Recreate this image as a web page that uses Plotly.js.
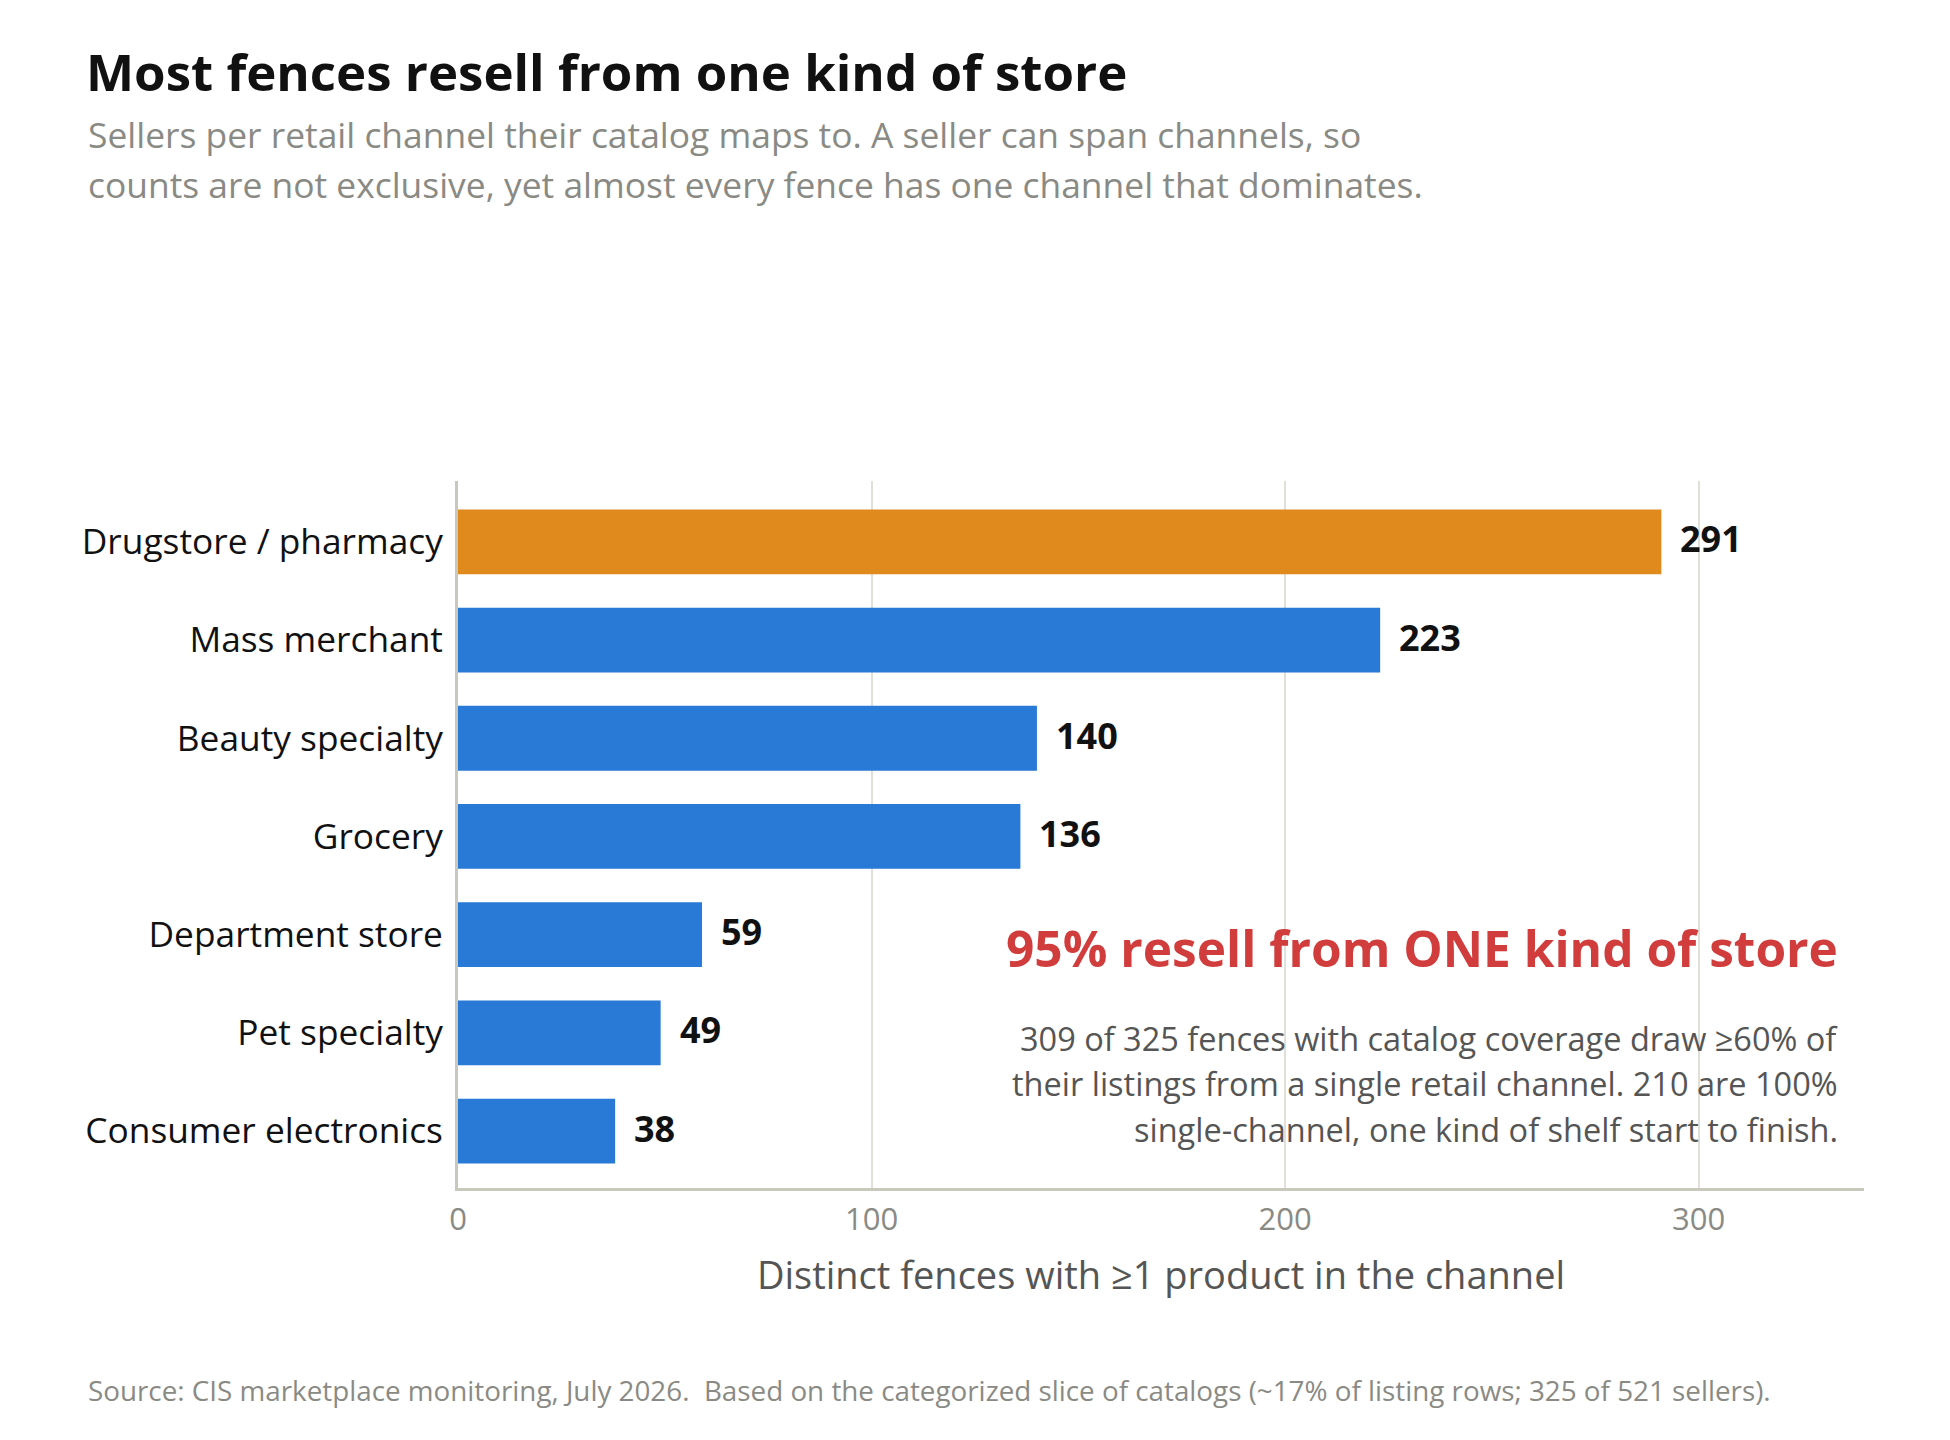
<!DOCTYPE html>
<html>
<head>
<meta charset="utf-8">
<script src="https://cdn.plot.ly/plotly-3.0.1.min.js"></script>
<style>
  html, body { margin: 0; padding: 0; background: #ffffff; }
  #chart { width: 1950px; height: 1440px; }
</style>
</head>
<body>
<div id="chart"></div>
<script>
// ---- Data ----
const categories = [
  "Drugstore / pharmacy",
  "Mass merchant",
  "Beauty specialty",
  "Grocery",
  "Department store",
  "Pet specialty",
  "Consumer electronics"
];
const sellers = [291, 223, 140, 136, 59, 49, 38];
const highlightCategory = "Drugstore / pharmacy";
const xTickValues = [0, 100, 200, 300];

const titleText = "Most fences resell from one kind of store";
const subtitleLines = [
  "Sellers per retail channel their catalog maps to. A seller can span channels, so",
  "counts are not exclusive, yet almost every fence has one channel that dominates."
];
const xAxisTitle = "Distinct fences with ≥1 product in the channel";
const calloutHead = "95% resell from ONE kind of store";
const calloutLines = [
  "309 of 325 fences with catalog coverage draw ≥60% of",
  "their listings from a single retail channel. 210 are 100%",
  "single-channel, one kind of shelf start to finish."
];
const sourceText = "Source: CIS marketplace monitoring, July 2026.  Based on the categorized slice of catalogs (~17% of listing rows; 325 of 521 sellers).";

// ---- Styling / layout ----
const FONT = "'Open Sans', 'Noto Sans', sans-serif";
const W = 1950, H = 1440;
const L = 458, R = 1864, T = 481, B = 1188;
const px = x => (x - L) / (R - L);
const py = y => (B - y) / (B - T);

const ORANGE = "#E08A1E", BLUE = "#2979D6";
const colors = categories.map(c => c === highlightCategory ? ORANGE : BLUE);

const trace = {
  type: "bar",
  orientation: "h",
  x: sellers,
  y: categories,
  width: 0.66,
  marker: { color: colors },
  hoverinfo: "skip"
};

const annotations = [];
// value labels
categories.forEach((c, i) => {
  annotations.push({
    x: sellers[i], y: c, xref: "x", yref: "y",
    text: "<b>" + sellers[i] + "</b>",
    showarrow: false, xanchor: "left", yanchor: "middle",
    xshift: 17, yshift: 3,
    font: { family: FONT, size: 36, color: "#111111" }
  });
});
// subtitle
subtitleLines.forEach((t, i) => {
  annotations.push({
    x: px(86), y: py([134, 184][i]), xref: "paper", yref: "paper",
    text: t, showarrow: false, xanchor: "left", yanchor: "middle",
    font: { family: FONT, size: 35.4, color: "#8A8A85" }
  });
});
// callout
annotations.push({
  x: px(1840), y: py(948), xref: "paper", yref: "paper",
  text: "<b>" + calloutHead + "</b>", showarrow: false,
  xanchor: "right", yanchor: "middle",
  font: { family: FONT, size: 49.6, color: "#D13C3C" }
});
calloutLines.forEach((t, i) => {
  annotations.push({
    x: px(1840), y: py([1038, 1083, 1129][i]), xref: "paper", yref: "paper",
    text: t, showarrow: false, xanchor: "right", yanchor: "middle",
    font: { family: FONT, size: 32.5, color: "#555555" }
  });
});
// source
annotations.push({
  x: px(86), y: py(1390), xref: "paper", yref: "paper",
  text: sourceText, showarrow: false, xanchor: "left", yanchor: "middle",
  font: { family: FONT, size: 27.8, color: "#8A8A85" }
});

const layout = {
  width: W, height: H,
  paper_bgcolor: "#ffffff", plot_bgcolor: "#ffffff",
  margin: { l: L, r: W - R, t: T, b: H - B, pad: 0 },
  font: { family: FONT },
  showlegend: false,
  title: {
    text: "<b>" + titleText + "</b>",
    x: 86 / W, xref: "container", xanchor: "left",
    y: 1 - 73 / H, yref: "container", yanchor: "middle",
    font: { family: FONT, size: 51, color: "#111111" }
  },
  xaxis: {
    range: [0, 340],
    tickvals: xTickValues,
    ticktext: xTickValues.map(String),
    showgrid: true, gridcolor: "#E0E0D8", gridwidth: 2,
    zeroline: false,
    showline: true, linecolor: "#C8C8BC", linewidth: 3,
    ticks: "", ticklabelstandoff: 2,
    tickfont: { family: FONT, size: 31, color: "#8A8A85" },
    title: { text: xAxisTitle, standoff: 25, font: { family: FONT, size: 38, color: "#555555" } },
    fixedrange: true
  },
  yaxis: {
    type: "category",
    categoryorder: "array", categoryarray: categories,
    range: [6.58, -0.62],
    showgrid: false, zeroline: false,
    showline: true, linecolor: "#C8C8BC", linewidth: 3,
    ticks: "", ticklabelstandoff: 5,
    tickfont: { family: FONT, size: 35.3, color: "#111111" },
    fixedrange: true
  },
  bargap: 0.34,
  annotations: annotations
};

Plotly.newPlot("chart", [trace], layout, { displayModeBar: false, staticPlot: true });
</script>
</body>
</html>
